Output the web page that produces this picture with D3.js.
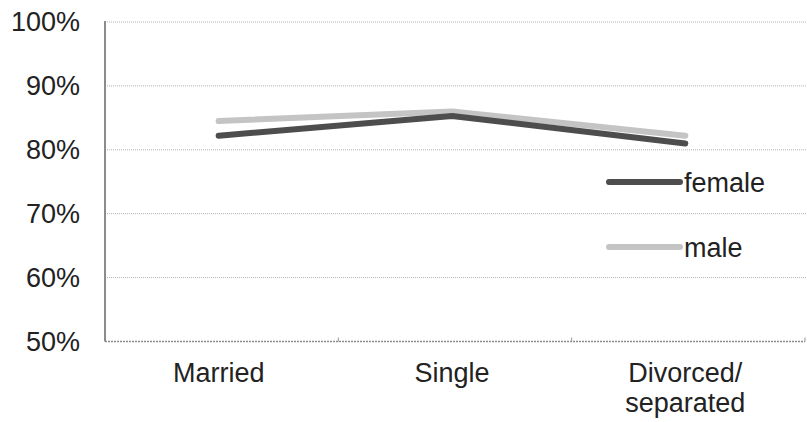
<!DOCTYPE html>
<html>
<head>
<meta charset="utf-8">
<script src="https://cdn.jsdelivr.net/npm/d3@7"></script>
<style>
  html, body { margin: 0; padding: 0; background: #fff; }
  svg { display: block; }
  text { font-family: "Liberation Sans", Arial, sans-serif; fill: #222; }
</style>
</head>
<body>
<svg id="chart" width="807" height="422"></svg>
<script>
// Marital status categories and share per sex
const categories = ["Married", "Single", "Divorced/\nseparated"];
const female = [0.822, 0.853, 0.810];
const male = [0.845, 0.860, 0.822];
const yTicks = [0.5, 0.6, 0.7, 0.8, 0.9, 1.0];
const seriesNames = ["female", "male"];
const seriesColors = ["#4d4d4d", "#c4c4c4"];

const svg = d3.select("#chart");
const plotLeft = 105, plotRight = 807, plotTop = 22, plotBottom = 341.5;
const fontSize = 27;

const x = d3.scaleBand().domain(categories).range([plotLeft, 805]);
const y = d3.scaleLinear().domain([0.5, 1.0]).range([plotBottom, plotTop]);

// Horizontal gridlines
svg.append("g")
  .selectAll("line")
  .data(yTicks.filter(d => d > 0.5))
  .join("line")
  .attr("x1", plotLeft).attr("x2", plotRight)
  .attr("y1", d => y(d)).attr("y2", d => y(d))
  .attr("stroke", "#b0b0b0")
  .attr("stroke-width", 1)
  .attr("stroke-dasharray", "1,1");

// Y axis labels
const yAxis = d3.axisLeft(y).tickValues(yTicks).tickFormat(d3.format(".0%")).tickSize(0).tickPadding(25);
const gy = svg.append("g").attr("transform", `translate(${plotLeft},0)`).call(yAxis);
gy.select(".domain").remove();
gy.selectAll("text")
  .attr("font-size", fontSize)
  .attr("font-family", "Liberation Sans, Arial, sans-serif")
  .attr("fill", "#222")
  .attr("dy", "0.33em");

// Left axis line
svg.append("line")
  .attr("x1", plotLeft).attr("x2", plotLeft)
  .attr("y1", plotTop - 1).attr("y2", plotBottom)
  .attr("stroke", "#8c8c8c").attr("stroke-width", 2);

// Bottom axis line with category boundary ticks
svg.append("line")
  .attr("x1", plotLeft).attr("x2", 805)
  .attr("y1", plotBottom).attr("y2", plotBottom)
  .attr("stroke", "#8c8c8c").attr("stroke-width", 1.5)
  .attr("stroke-dasharray", "2,1");
const boundaries = categories.slice(1).map(c => x(c)).concat([805]);
svg.append("g")
  .selectAll("line")
  .data(boundaries)
  .join("line")
  .attr("x1", d => d).attr("x2", d => d)
  .attr("y1", plotBottom - 4).attr("y2", plotBottom)
  .attr("stroke", "#999").attr("stroke-width", 1);

// X labels (multi-line)
const xl = svg.append("g")
  .selectAll("text")
  .data(categories)
  .join("text")
  .attr("text-anchor", "middle")
  .attr("font-size", fontSize)
  .attr("y", 382);
xl.each(function(d) {
  const lines = d.split("\n");
  d3.select(this).selectAll("tspan")
    .data(lines)
    .join("tspan")
    .attr("x", x(d) + x.bandwidth() / 2 - 3)
    .attr("dy", (l, i) => i === 0 ? 0 : 30)
    .text(l => l);
});

// Series lines
const line = d3.line()
  .x((v, i) => x(categories[i]) + x.bandwidth() / 2 - 3)
  .y(v => y(v));

const seriesData = [female, male];
svg.append("g")
  .selectAll("path")
  .data([1, 0])
  .join("path")
  .attr("d", k => line(seriesData[k]))
  .attr("fill", "none")
  .attr("stroke", k => seriesColors[k])
  .attr("stroke-width", 6)
  .attr("stroke-linecap", "round")
  .attr("stroke-linejoin", "round");

// Legend
const legendY = [182, 247];
const lg = svg.append("g")
  .selectAll("g")
  .data(seriesNames)
  .join("g")
  .attr("transform", (d, i) => `translate(0,${legendY[i]})`);
lg.append("line")
  .attr("x1", 609).attr("x2", 680)
  .attr("y1", 0).attr("y2", 0)
  .attr("stroke", (d, i) => seriesColors[i])
  .attr("stroke-width", 6)
  .attr("stroke-linecap", "round");
lg.append("text")
  .attr("x", 684)
  .attr("y", 10)
  .attr("font-size", fontSize)
  .text(d => d);
</script>
</body>
</html>
